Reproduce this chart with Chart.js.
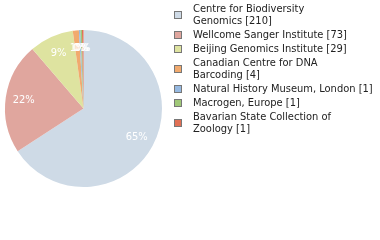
<!DOCTYPE html>
<html>
<head>
<meta charset="utf-8">
<script src="https://cdn.jsdelivr.net/npm/chart.js@4"></script>
<style>
  html, body { margin: 0; padding: 0; background: #fff; }
  #wrap { position: relative; width: 380px; height: 240px; }
  #chart { position: absolute; left: 0; top: 0; }
  #legend {
    position: absolute; left: 174px; top: 3px;
    font: 11px "DejaVu Sans Condensed", "DejaVu Sans", sans-serif; color: #222;
  }
  .item { display: flex; align-items: center; margin-bottom: 2px; }
  .box { width: 6px; height: 6px; border: 1px solid #777; margin-right: 11px; flex: none; }
  .txt { line-height: 12px; white-space: nowrap; }
</style>
</head>
<body>
<div id="wrap">
  <canvas id="chart" width="380" height="240"></canvas>
  <div id="legend"></div>
</div>
<script>
const labels = [
  ["Centre for Biodiversity", "Genomics [210]"],
  ["Wellcome Sanger Institute [73]"],
  ["Beijing Genomics Institute [29]"],
  ["Canadian Centre for DNA", "Barcoding [4]"],
  ["Natural History Museum, London [1]"],
  ["Macrogen, Europe [1]"],
  ["Bavarian State Collection of", "Zoology [1]"],
];
const counts = [210, 73, 29, 4, 1, 1, 1];
const colors = [
  "rgb(206,218,230)",
  "rgb(224,166,158)",
  "rgb(222,227,160)",
  "rgb(241,170,110)",
  "rgb(150,185,225)",
  "rgb(160,200,120)",
  "rgb(225,112,85)",
];

const total = counts.reduce((a, b) => a + b, 0);

// white percent labels inside the slices
const pctLabels = {
  id: "pctLabels",
  afterDatasetsDraw(chart) {
    const ctx = chart.ctx;
    const meta = chart.getDatasetMeta(0);
    ctx.save();
    ctx.fillStyle = "#fff";
    ctx.font = '11px "DejaVu Sans Condensed", "DejaVu Sans", sans-serif';
    ctx.textAlign = "center";
    ctx.textBaseline = "middle";
    meta.data.forEach((arc, i) => {
      const p = arc.getProps(["x", "y", "startAngle", "endAngle", "outerRadius"], true);
      const mid = (p.startAngle + p.endAngle) / 2;
      const r = p.outerRadius * 0.77;
      const pct = Math.floor((counts[i] / total) * 100) + "%";
      ctx.fillText(pct, p.x + Math.cos(mid) * r, p.y + Math.sin(mid) * r);
    });
    ctx.restore();
  },
};

const chart = new Chart(document.getElementById("chart"), {
  type: "pie",
  data: {
    labels: labels.map((l) => l.join(" ")),
    datasets: [
      {
        data: counts,
        backgroundColor: colors,
        borderWidth: 0,
      },
    ],
  },
  options: {
    responsive: false,
    animation: false,
    layout: { padding: { left: 5, right: 218, top: 30, bottom: 53 } },
    plugins: {
      legend: { display: false },
      tooltip: { enabled: false },
    },
  },
  plugins: [pctLabels],
});

// html legend, same order as the slices
const el_legend = document.getElementById("legend");
labels.forEach((l, i) => {
  const item = document.createElement("div");
  item.className = "item";
  const box = document.createElement("div");
  box.className = "box";
  box.style.background = colors[i];
  const txt = document.createElement("div");
  txt.className = "txt";
  txt.innerHTML = l.join("<br>");
  item.appendChild(box);
  item.appendChild(txt);
  el_legend.appendChild(item);
});
</script>
</body>
</html>
